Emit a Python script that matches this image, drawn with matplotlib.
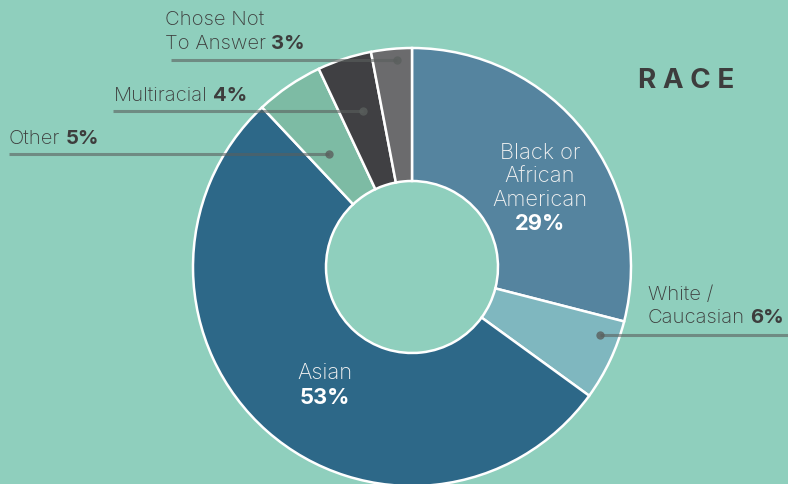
import matplotlib
matplotlib.use("Agg")
import matplotlib.pyplot as plt

# race breakdown, clockwise from 12 o'clock
labels = ['Black or African American', 'White / Caucasian', 'Asian',
          'Other', 'Multiracial', 'Chose Not To Answer']
shares = [29, 6, 53, 5, 4, 3]
colors = ['#55849f', '#7fb7bf', '#2d6888', '#7dbba4', '#404043', '#6b6b6d']

bg = '#8fcfbd'
ink = '#3d3d3d'
W, H = 788, 485

plt.rcParams['font.family'] = ['Inter', 'DejaVu Sans']

fig = plt.figure(figsize=(W / 100, H / 100), dpi=100, facecolor=bg)
ax = fig.add_axes([0, 0, 1, 1])
ax.set_facecolor(bg)

cx, cy, R, r = 412, 268, 219, 86

# y axis is flipped, so counterclock=True draws clockwise on screen
wedges, _ = ax.pie(shares, colors=colors, startangle=-90, counterclock=True,
                   center=(cx, cy), radius=R, frame=True,
                   wedgeprops=dict(width=R - r, edgecolor='white', linewidth=1.8))
ax.set_xlim(0, W)
ax.set_ylim(H, 0)
ax.set_aspect('equal')
ax.axis('off')

# leader lines: (x start, x end, y, dot at end)
line_col = '#5a5f5d'
leaders = [(171, 397, 61, 397), (113, 363, 112, 363), (9, 329, 155, 329), (600, 788, 336, 600)]
for x0, x1, y, xd in leaders:
    ax.plot([x0, x1], [y, y], color=line_col, alpha=0.6, lw=2.2, solid_capstyle='butt', zorder=5)
    ax.plot([xd], [y], 'o', color=line_col, alpha=0.8, ms=6, mec='none', zorder=6)

fs = 14.6
fw = 15.8


def two_part(x, y, light, bold, color=ink):
    t = ax.text(x, y, light, fontsize=fs, color=color, va='center', ha='left', fontweight='light')
    fig.canvas.draw()
    bb = t.get_window_extent()
    xe = ax.transData.inverted().transform((bb.x1, bb.y0))[0]
    ax.text(xe + 5, y, bold, fontsize=fs, color=color, va='center', ha='left', fontweight='bold')


ax.text(165, 20, 'Chose Not', fontsize=fs, color=ink, va='center', fontweight='light')
two_part(165, 44, 'To Answer', '3%')
two_part(114, 96, 'Multiracial', '4%')
two_part(9, 139, 'Other', '5%')
ax.text(648, 295, 'White /', fontsize=fs, color=ink, va='center', fontweight='light')
two_part(648, 318, 'Caucasian', '6%')

wtxt = '#f2f2f2'
for i, s in enumerate(['Black or', 'African', 'American']):
    ax.text(540, 153 + i * 23.5, s, fontsize=fw, color=wtxt, ha='center', va='center', fontweight='light')
ax.text(540, 224, '29%', fontsize=fw, color='white', ha='center', va='center', fontweight='bold')
ax.text(325, 373, 'Asian', fontsize=fw, color=wtxt, ha='center', va='center', fontweight='light')
ax.text(325, 398, '53%', fontsize=fw, color='white', ha='center', va='center', fontweight='bold')

ax.text(686, 81, 'R A C E', fontsize=20, color=ink, ha='center', va='center', fontweight='bold')

fig.savefig('out.png', dpi=100, facecolor=bg)
